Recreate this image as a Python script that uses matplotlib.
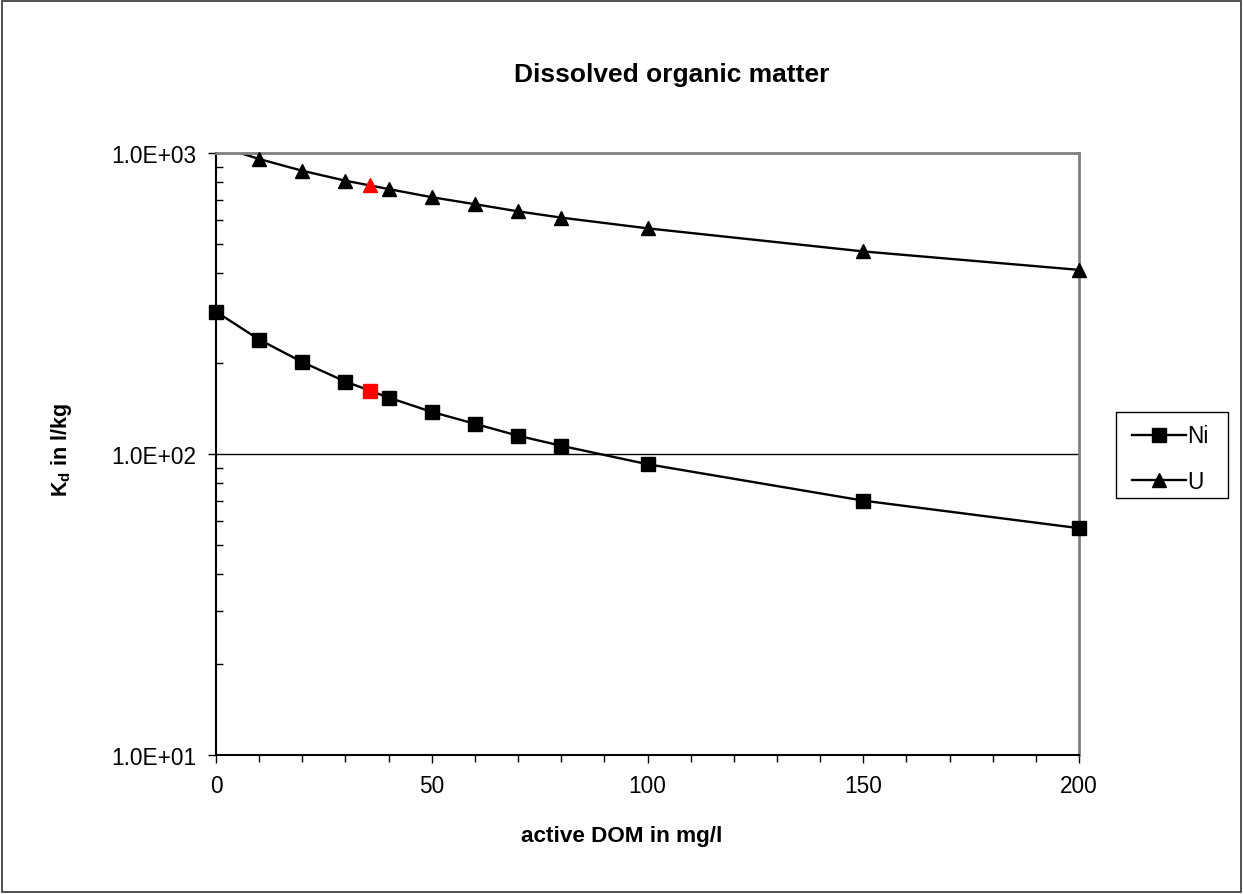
import matplotlib
matplotlib.use("Agg")
import matplotlib.pyplot as plt
from matplotlib.ticker import FixedLocator, FuncFormatter, MultipleLocator, LogLocator, NullFormatter
from matplotlib.patches import Rectangle
from matplotlib.lines import Line2D

plt.rcParams['font.family'] = ['Liberation Sans', 'DejaVu Sans']
plt.rcParams['mathtext.fontset'] = 'custom'
plt.rcParams['mathtext.rm'] = 'Liberation Sans:bold'
plt.rcParams['mathtext.it'] = 'Liberation Sans:bold'
plt.rcParams['mathtext.bf'] = 'Liberation Sans:bold'

# Data
dom = [0, 10, 20, 30, 40, 50, 60, 70, 80, 100, 150, 200]
kd_ni = [297, 240, 202, 174, 154, 138, 126, 115, 106.5, 92.5, 70, 56.7]
kd_u = [1060, 955, 873, 809, 759, 713, 676, 640, 610, 562, 471, 409]
highlight_dom = [35.6]
highlight_ni = [162]
highlight_u = [783]

title = "Dissolved organic matter"
xlabel = "active DOM in mg/l"
ylabel = r"$\mathrm{K_d}$ in l/kg"
series_names = ["Ni", "U"]

YMIN, YMAX = 10, 1000

fig = plt.figure(figsize=(12.43, 8.95), dpi=100)
W, H = 1243, 895
ax = fig.add_axes([216 / W, 1 - 756 / H, (1079 - 216) / W, (756 - 154) / H])

LW = 1.7
# lines (clipped to plot area)
ax.plot(dom, kd_ni, color='black', lw=LW, zorder=2)
ax.plot(dom, kd_u, color='black', lw=LW, zorder=2)
# markers (only those within the axis range, not clipped at edges)
ni_in = [i for i, v in enumerate(kd_ni) if YMIN <= v <= YMAX]
u_in = [i for i, v in enumerate(kd_u) if YMIN <= v <= YMAX]
ax.plot([dom[i] for i in ni_in], [kd_ni[i] for i in ni_in], ls='none', marker='s', ms=9.5,
        color='black', clip_on=False, zorder=3)
ax.plot([dom[i] for i in u_in], [kd_u[i] for i in u_in], ls='none', marker='^', ms=10.5,
        color='black', clip_on=False, zorder=3)
ax.plot(highlight_dom, highlight_ni, ls='none', marker='s', ms=9.5, color='red', zorder=4)
ax.plot(highlight_dom, highlight_u, ls='none', marker='^', ms=10.5, color='red', zorder=4)

ax.set_yscale('log')
ax.set_ylim(YMIN, YMAX)
ax.set_xlim(0, 200)

ax.xaxis.set_major_locator(MultipleLocator(50))
ax.xaxis.set_minor_locator(MultipleLocator(10))
ax.yaxis.set_major_locator(FixedLocator([10, 100, 1000]))
ax.yaxis.set_major_formatter(FuncFormatter(lambda v, p: f"{v:.1E}"))
ax.yaxis.set_minor_locator(LogLocator(base=10, subs=range(2, 10)))
ax.yaxis.set_minor_formatter(NullFormatter())

FS = 16.3
ax.tick_params(axis='x', which='major', direction='out', length=6, width=1, labelsize=FS, pad=8)
ax.tick_params(axis='x', which='minor', direction='out', length=5, width=1)
ax.tick_params(axis='y', which='major', direction='out', length=6, width=1, labelsize=FS, pad=8)
ax.tick_params(axis='y', which='minor', direction='in', length=5, width=1)

ax.axhline(100, color='black', lw=1, zorder=1)

for s in ['top', 'right']:
    ax.spines[s].set_color('#808080')
    ax.spines[s].set_linewidth(2)
for s in ['left', 'bottom']:
    ax.spines[s].set_color('black')
    ax.spines[s].set_linewidth(1.5)

fig.text(672 / W, 1 - 75 / H, title, ha='center', va='center', fontsize=19, fontweight='bold')
fig.text(622 / W, 1 - 837 / H, xlabel, ha='center', va='center', fontsize=16.2, fontweight='bold')
fig.text(62 / W, 1 - 450 / H, ylabel, ha='center', va='center', fontsize=15.5, fontweight='bold', rotation=90)

handles = [Line2D([], [], color='black', lw=LW, marker='s', ms=9.5),
           Line2D([], [], color='black', lw=LW, marker='^', ms=10.5)]
leg = fig.legend(handles, series_names, loc='upper left', bbox_to_anchor=(1132 / W, 1 - 425.5 / H),
                 frameon=False, fontsize=FS, handlelength=2.39, handletextpad=0.05,
                 labelspacing=1.0, borderpad=0, borderaxespad=0)
# legend frame
fig.patches.append(Rectangle((1116 / W, 1 - 499 / H), (1228 - 1116) / W, (499 - 413) / H,
                             transform=fig.transFigure, fill=False, edgecolor='black', lw=1))

# outer chart border
fig.patches.append(Rectangle((2 / W, 2 / H), 1 - 4 / W, 1 - 4 / H, transform=fig.transFigure,
                             fill=False, edgecolor='#333333', lw=1.2))

fig.savefig('out.png', dpi=100)
